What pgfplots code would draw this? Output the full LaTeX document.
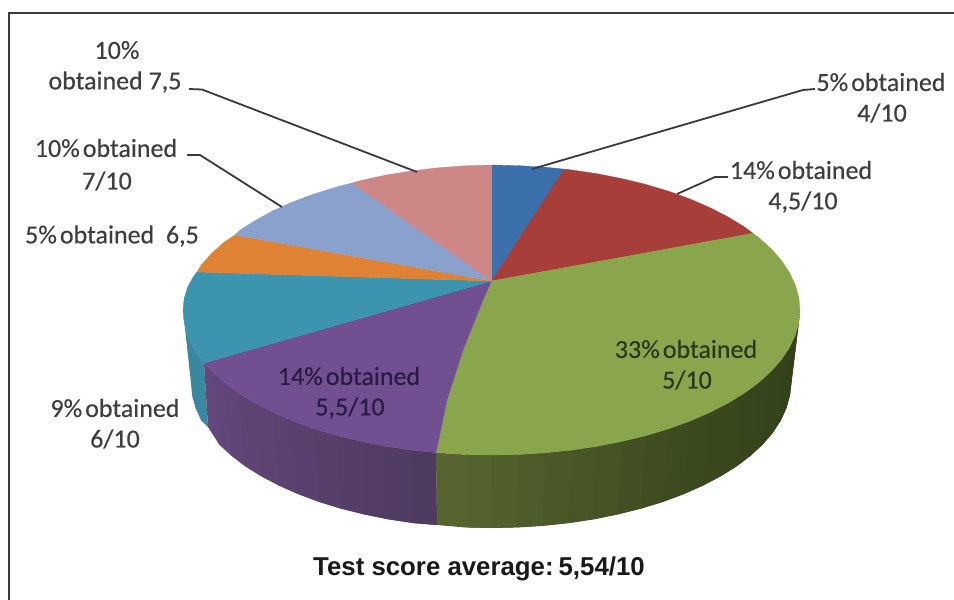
\documentclass[border=0pt]{standalone}
\usepackage{pgfplots}
\usepackage{fontspec}
\pgfplotsset{compat=1.18}
\setmainfont{Carlito}[FakeBold=0.3]
\newfontfamily\titlefont{Liberation Sans}
\definecolor{cblue}{RGB}{60,112,172}
\definecolor{cred}{RGB}{168,62,58}
\definecolor{cgreen}{RGB}{138,166,76}
\definecolor{cpurple}{RGB}{112,80,145}
\definecolor{cteal}{RGB}{60,148,174}
\definecolor{corange}{RGB}{224,130,52}
\definecolor{clblue}{RGB}{138,160,205}
\definecolor{cpink}{RGB}{205,135,135}
\definecolor{lead}{RGB}{58,58,58}
\definecolor{lab}{RGB}{62,62,62}
\definecolor{labpurple}{RGB}{42,26,70}
\definecolor{labgreen}{RGB}{36,58,22}
% one band of a side wall; each band runs under the next one so no seam shows
\newcommand{\strip}[4]{\addplot[fill={rgb,255:red,#1;green,#2;blue,#3},draw=none] coordinates {#4} -- cycle;}
\newcommand{\lab}[4][lab]{\node[text=#1,font=\fontsize{26}{30}\selectfont,inner sep=0pt] at (axis cs:#2,#3) {#4};}
\newcommand{\ob}{\%\hspace{3pt}obtained}
\begin{document}
\begin{tikzpicture}
\begin{axis}[
  width=954pt,height=600pt,scale only axis,
  xmin=0,xmax=954,ymin=0,ymax=600,y dir=reverse,
  axis lines=none,clip=true]
% page background
\addplot[fill=white,draw=none] coordinates {(0,0)(954,0)(954,600)(0,600)} -- cycle;
% outer rule, top and left only
\addplot[lead,line width=2pt] coordinates {(9,600)(9,13)(954,13)};

% side wall: teal slice
\addplot[fill={rgb,255:red,58;green,135;blue,160},draw=none] coordinates {(183,310)(184.2,322.6)(187.7,335.2)(193.5,347.5)(204,363)(208,427)(201.2,420.5)(195.6,408.2)(192.1,395.6)(191,383)} -- cycle;

% side wall: purple slice
\strip{100}{72}{125}{(204,363)(211.9,371.3)(224.3,382.5)(231.2,455.5)(219.1,444.3)(208,427)}
\strip{98}{71}{123}{(211.9,371.3)(224.3,382.5)(238.8,393.2)(245.2,466.2)(231.2,455.5)(219.1,444.3)}
\strip{96}{70}{120}{(224.3,382.5)(238.8,393.2)(255.2,403.2)(261.2,476.2)(245.2,466.2)(231.2,455.5)}
\strip{94}{68}{117}{(238.8,393.2)(255.2,403.2)(273.4,412.5)(278.9,485.5)(261.2,476.2)(245.2,466.2)}
\strip{92}{67}{115}{(255.2,403.2)(273.4,412.5)(293.2,421.1)(298.2,494.1)(278.9,485.5)(261.2,476.2)}
\strip{90}{66}{112}{(273.4,412.5)(293.2,421.1)(314.5,428.8)(318.9,501.8)(298.2,494.1)(278.9,485.5)}
\strip{88}{65}{110}{(293.2,421.1)(314.5,428.8)(337.2,435.6)(341,508.6)(318.9,501.8)(298.2,494.1)}
\strip{86}{63}{107}{(314.5,428.8)(337.2,435.6)(361.1,441.4)(364.2,514.4)(341,508.6)(318.9,501.8)}
\strip{84}{62}{104}{(337.2,435.6)(361.1,441.4)(386,446.3)(388.4,519.3)(364.2,514.4)(341,508.6)}
\strip{83}{61}{102}{(361.1,441.4)(386,446.3)(411.7,450.1)(413.4,523.1)(388.4,519.3)(364.2,514.4)}
\strip{81}{60}{99}{(386,446.3)(411.7,450.1)(436,452.6)(437,525)(413.4,523.1)(388.4,519.3)}
\strip{79}{59}{96}{(411.7,450.1)(436,452.6)(437,525)(413.4,523.1)}

% side wall: green slice
\strip{86}{100}{48}{(436,452.6)(464.6,454.4)(491.5,455)(491,528)(464.8,527.4)(437,525)}
\strip{84}{98}{47}{(464.6,454.4)(491.5,455)(518.4,454.4)(517.2,527.4)(491,528)(464.8,527.4)}
\strip{81}{95}{45}{(491.5,455)(518.4,454.4)(545.1,452.8)(543.1,525.8)(517.2,527.4)(491,528)}
\strip{78}{92}{43}{(518.4,454.4)(545.1,452.8)(571.3,450.1)(568.6,523.1)(543.1,525.8)(517.2,527.4)}
\strip{75}{89}{41}{(545.1,452.8)(571.3,450.1)(597,446.3)(593.6,519.3)(568.6,523.1)(543.1,525.8)}
\strip{72}{86}{39}{(571.3,450.1)(597,446.3)(621.9,441.4)(617.8,514.4)(593.6,519.3)(568.6,523.1)}
\strip{69}{83}{37}{(597,446.3)(621.9,441.4)(645.8,435.6)(641,508.6)(617.8,514.4)(593.6,519.3)}
\strip{66}{80}{35}{(621.9,441.4)(645.8,435.6)(668.5,428.8)(663.1,501.8)(641,508.6)(617.8,514.4)}
\strip{63}{77}{33}{(645.8,435.6)(668.5,428.8)(689.8,421.1)(683.8,494.1)(663.1,501.8)(641,508.6)}
\strip{61}{75}{32}{(668.5,428.8)(689.8,421.1)(709.6,412.5)(703.1,485.5)(683.8,494.1)(663.1,501.8)}
\strip{59}{73}{31}{(689.8,421.1)(709.6,412.5)(727.8,403.2)(720.8,476.2)(703.1,485.5)(683.8,494.1)}
\strip{58}{72}{30}{(709.6,412.5)(727.8,403.2)(744.2,393.2)(736.8,466.2)(720.8,476.2)(703.1,485.5)}
\strip{57}{71}{29}{(727.8,403.2)(744.2,393.2)(758.7,382.5)(750.8,455.5)(736.8,466.2)(720.8,476.2)}
\strip{56}{70}{29}{(744.2,393.2)(758.7,382.5)(771.1,371.3)(762.9,444.3)(750.8,455.5)(736.8,466.2)}
\strip{55}{69}{28}{(758.7,382.5)(771.1,371.3)(781.4,359.6)(772.9,432.6)(762.9,444.3)(750.8,455.5)}
\strip{54}{68}{28}{(771.1,371.3)(781.4,359.6)(789.5,347.5)(780.8,420.5)(772.9,432.6)(762.9,444.3)}
\strip{53}{67}{27}{(781.4,359.6)(789.5,347.5)(795.3,335.2)(786.4,408.2)(780.8,420.5)(772.9,432.6)}
\strip{52}{66}{27}{(789.5,347.5)(795.3,335.2)(798.8,322.6)(789.9,395.6)(786.4,408.2)(780.8,420.5)}
\strip{51}{65}{26}{(795.3,335.2)(798.8,322.6)(800,310)(791,383)(789.9,395.6)(786.4,408.2)}
\strip{50}{63}{26}{(798.8,322.6)(800,310)(791,383)(789.9,395.6)}

% top face, one polygon per slice
\addplot[fill=cblue,draw=cblue,line width=0.3pt] coordinates {(491.5,281)(491.5,165)(518.4,165.6)(545.1,167.2)(564,169.1)} -- cycle;
\addplot[fill=cred,draw=cred,line width=0.3pt] coordinates {(491.5,281)(564,169.1)(571.3,169.9)(597,173.7)(621.9,178.6)(645.8,184.4)(668.5,191.2)(689.8,198.9)(709.6,207.5)(727.8,216.8)(744.2,226.8)(753,233.3)} -- cycle;
\addplot[fill=cgreen,draw=cgreen,line width=0.3pt] coordinates {(491.5,281)(753,233.3)(758.7,237.5)(771.1,248.7)(781.4,260.4)(789.5,272.5)(795.3,284.8)(798.8,297.4)(800,310)(798.8,322.6)(795.3,335.2)(789.5,347.5)(781.4,359.6)(771.1,371.3)(758.7,382.5)(744.2,393.2)(727.8,403.2)(709.6,412.5)(689.8,421.1)(668.5,428.8)(645.8,435.6)(621.9,441.4)(597,446.3)(571.3,450.1)(545.1,452.8)(518.4,454.4)(491.5,455)(464.6,454.4)(436,452.6)(447,400)(463,350)(483,300)} -- cycle;
\addplot[fill=cpurple,draw=cpurple,line width=0.3pt] coordinates {(491.5,281)(483,300)(463,350)(447,400)(436,452.6)(411.7,450.1)(386,446.3)(361.1,441.4)(337.2,435.6)(314.5,428.8)(293.2,421.1)(273.4,412.5)(255.2,403.2)(238.8,393.2)(224.3,382.5)(211.9,371.3)(204,363)} -- cycle;
\addplot[fill=cteal,draw=cteal,line width=0.3pt] coordinates {(491.5,281)(204,363)(193.5,347.5)(187.7,335.2)(184.2,322.6)(183,310)(184.2,298.4)(187.7,287)(193.5,276.5)(197,272)} -- cycle;
\addplot[fill=corange,draw=corange,line width=0.3pt] coordinates {(491.5,281)(197,272)(201.6,264.5)(212,253)(224.3,242)(235,235)} -- cycle;
\addplot[fill=clblue,draw=clblue,line width=0.3pt] coordinates {(491.5,281)(235,235)(238.8,231)(255.2,220.5)(273.4,210.5)(293.2,201.7)(314.5,193.8)(337.2,186.8)(352,183)} -- cycle;
\addplot[fill=cpink,draw=cpink,line width=0.3pt] coordinates {(491.5,281)(352,183)(361.1,180.5)(386,175)(411.7,170.9)(437.9,167.8)(464.6,165.8)(491.5,165)} -- cycle;

% leader lines
\addplot[lead,line width=1.8pt] coordinates {(189,89)(202,89.5)(417,172)};
\addplot[lead,line width=1.8pt] coordinates {(187,155)(200,155)(282,207)};
\addplot[lead,line width=1.8pt] coordinates {(815,89)(803,90)(532,169)};
\addplot[lead,line width=1.8pt] coordinates {(728,177)(715,177)(677,194)};

% slice labels
\lab{117}{50}{10\%}
\lab{115}{82}{obtained 7,5}
\lab{106}{148}{10\ob}
\lab{107}{181}{7/10}
\lab{112}{236}{5\ob\ \ 6,5}
\lab{115}{408}{9\ob}
\lab{115}{439}{6/10}
\lab[labpurple]{349}{376}{14\ob}
\lab[labpurple]{350}{408}{5,5/10}
\lab[labgreen]{686}{349}{33\ob}
\lab[labgreen]{687}{380}{5/10}
\lab{881}{82}{5\ob}
\lab{882}{113}{4/10}
\lab{801}{170}{14\ob}
\lab{803}{202}{4,5/10}
% caption under the pie
\node[text=black!90,font=\titlefont\bfseries\fontsize{25.8}{30}\selectfont,inner sep=0pt] at (axis cs:479,569) {Test score average:\hspace{5pt}5,54/10};
\end{axis}
\end{tikzpicture}
\end{document}
